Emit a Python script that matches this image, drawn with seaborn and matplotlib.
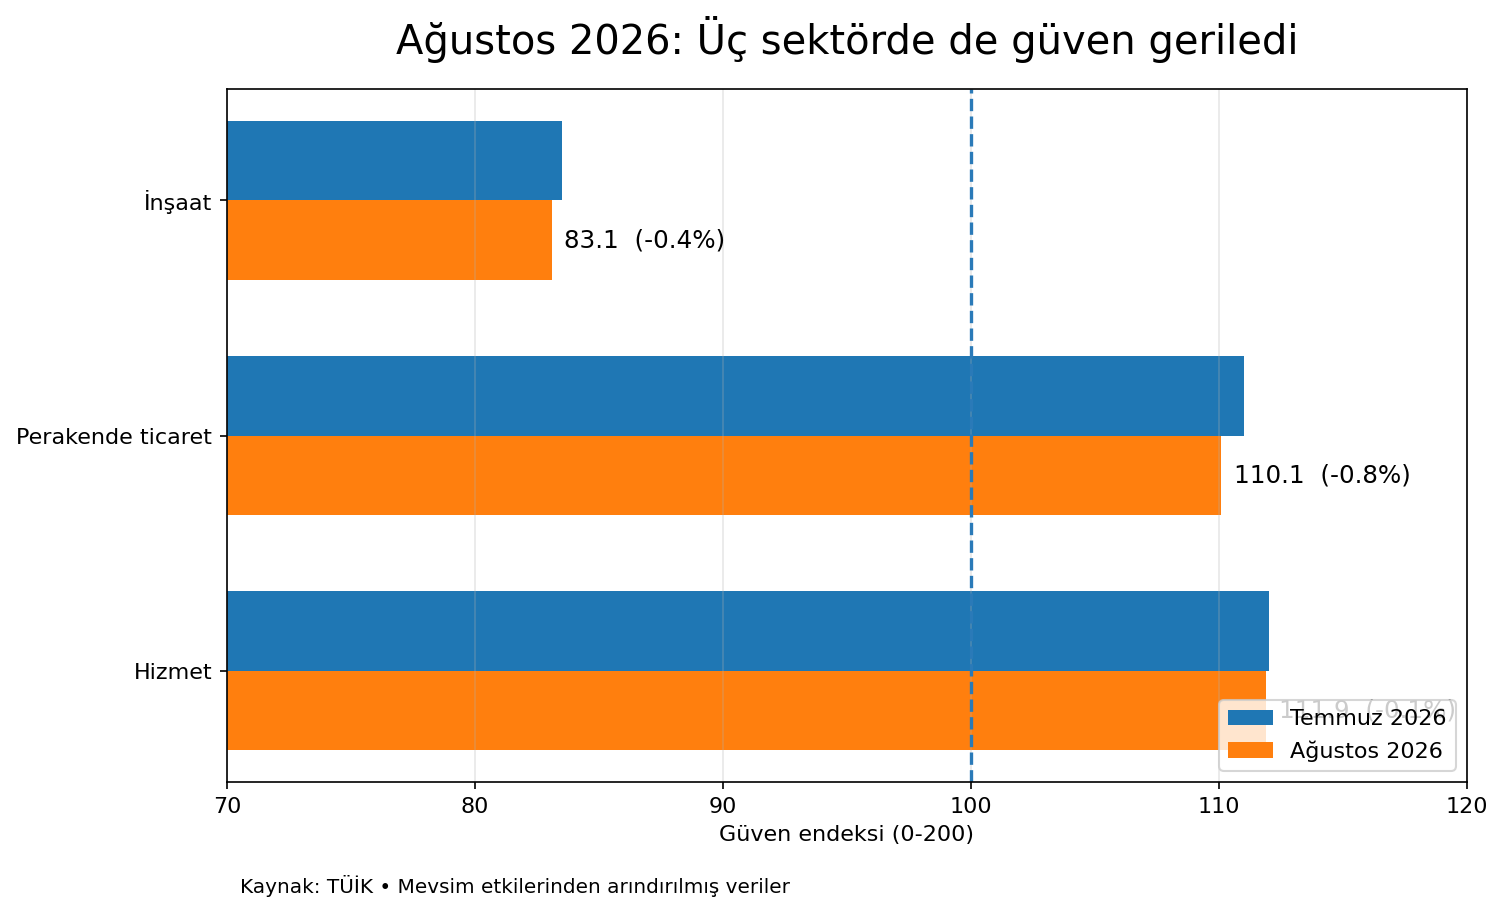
import pandas as pd
import seaborn as sns
import matplotlib
matplotlib.use("Agg")
import matplotlib.pyplot as plt


# data
sectors = ["İnşaat", "Perakende ticaret", "Hizmet"]
temmuz = [83.5, 111.0, 112.0]
agustos = [83.1, 110.1, 111.9]
changes = [-0.4, -0.8, -0.1]
periods = ["Temmuz 2026", "Ağustos 2026"]

df = pd.DataFrame({
    "Sektör": sectors * 2,
    "Dönem": [periods[0]] * 3 + [periods[1]] * 3,
    "Endeks": temmuz + agustos,
})

fig = plt.figure(figsize=(1504 / 150, 913 / 150), dpi=150)
ax = fig.add_axes([0.1509, 0.1435, 0.8245, 0.759])

sns.barplot(
    data=df, y="Sektör", x="Endeks", hue="Dönem",
    order=sectors, hue_order=periods,
    palette=["#1f77b4", "#ff7f0e"], saturation=1,
    width=0.68, orient="h", ax=ax, errorbar=None,
)

# reference line at 100
ax.axvline(100, color="#2a7ab8", linestyle="--", linewidth=1.6)

# labels next to the August bars
for i, (val, ch) in enumerate(zip(agustos, changes)):
    ax.text(val + 0.5, i + 0.17, f"{val:.1f}  ({ch:.1f}%)",
            va="center", ha="left", fontsize=11.8)

ax.set_xlim(70, 120)
ax.set_ylim(2.474, -0.474)
ax.grid(axis="x", alpha=0.3)
ax.tick_params(labelsize=10.7)
ax.set_xlabel("Güven endeksi (0-200)", fontsize=10.7)
ax.set_ylabel("")
ax.set_title("Ağustos 2026: Üç sektörde de güven geriledi", fontsize=19.2, pad=17)
ax.legend(loc="lower right", fontsize=10.7, title=None)

fig.text(0.1596, 0.0296, "Kaynak: TÜİK • Mevsim etkilerinden arındırılmış veriler",
         fontsize=9.6, va="center", ha="left")

fig.savefig("out.png", dpi=150)
